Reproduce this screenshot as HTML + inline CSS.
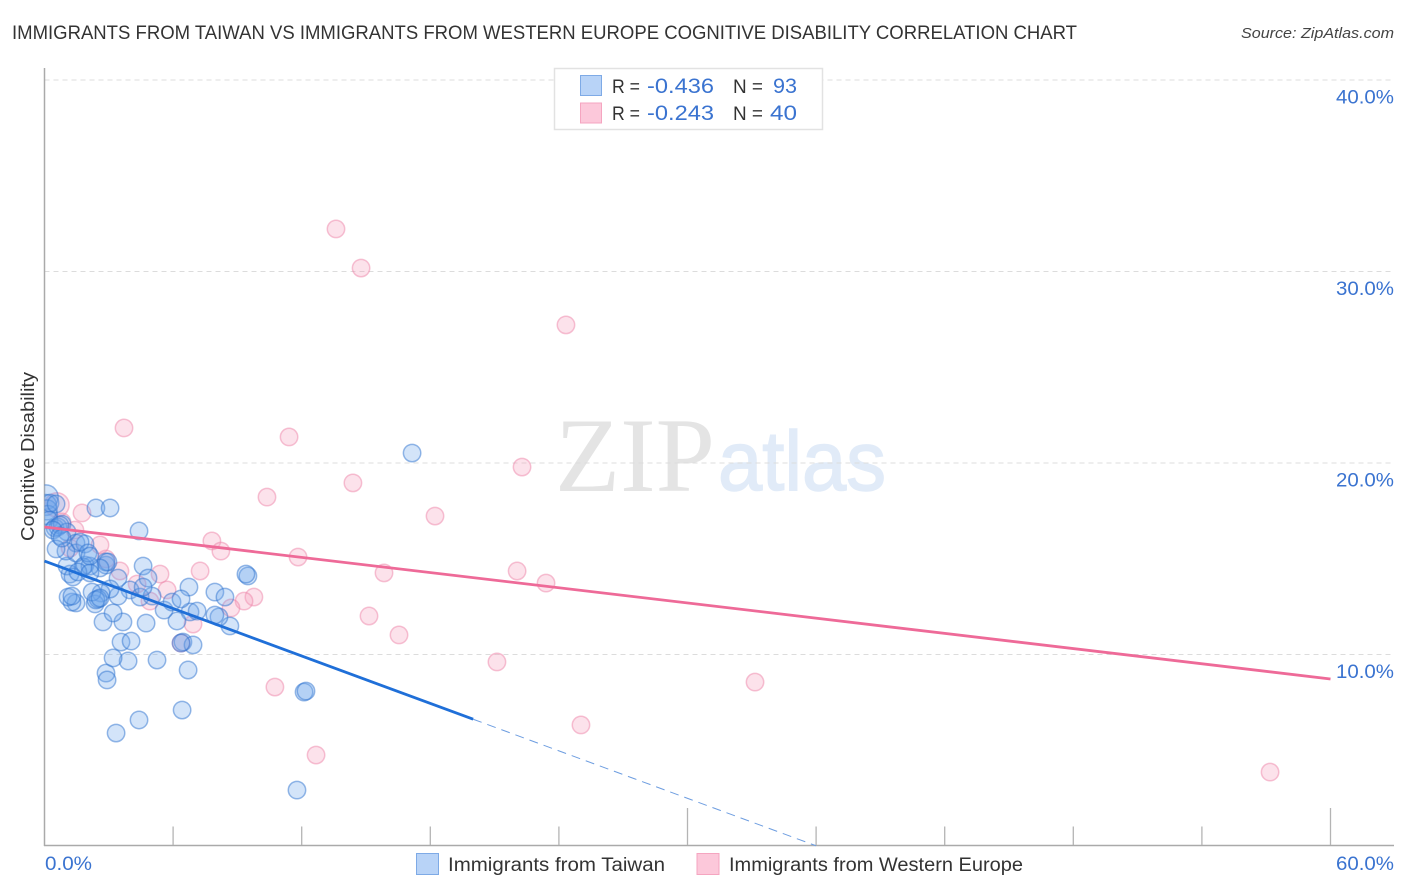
<!DOCTYPE html>
<html lang="en">
<head>
<meta charset="utf-8">
<title>Immigrants from Taiwan vs Immigrants from Western Europe Cognitive Disability Correlation Chart</title>
<style>
html,body{margin:0;padding:0;background:#fff;}
body{width:1406px;height:892px;overflow:hidden;}
svg{display:block;font-family:"Liberation Sans",sans-serif;}
</style>
</head>
<body>
<svg id="chart" xmlns="http://www.w3.org/2000/svg" width="1406" height="892" viewBox="0 0 1406 892">
  <defs><clipPath id="plot-clip"><rect x="44.5" y="60" width="1350" height="786"/></clipPath></defs>
  <rect width="1406" height="892" fill="#fff"/>
  <text x="12" y="39" font-size="19.5" fill="#333" textLength="1065" lengthAdjust="spacingAndGlyphs">IMMIGRANTS FROM TAIWAN VS IMMIGRANTS FROM WESTERN EUROPE COGNITIVE DISABILITY CORRELATION CHART</text>
  <text x="1241" y="38" font-size="15" font-style="italic" fill="#444" textLength="153" lengthAdjust="spacingAndGlyphs">Source: ZipAtlas.com</text>

  <g>
    <text x="555" y="491" font-family="'Liberation Serif',serif" font-size="106" fill="#e4e4e4" textLength="160" lengthAdjust="spacingAndGlyphs">ZIP</text>
    <text x="718" y="490" font-size="84" fill="#e1ebf8" stroke="#e1ebf8" stroke-width="1.5" textLength="168" lengthAdjust="spacingAndGlyphs">atlas</text>
  </g>

  <g id="grid"></g>
  <g id="axes"></g>
  <g id="points" clip-path="url(#plot-clip)"></g>
  <g id="trends"></g>
  <g id="labels"></g>

  <text transform="translate(34,541) rotate(-90)" font-size="18" fill="#333" textLength="169" lengthAdjust="spacingAndGlyphs">Cognitive Disability</text>

  <g>
    <rect x="554.5" y="68.5" width="268" height="61" fill="#fff" stroke="#e2e2e2" stroke-width="1.5"/>
    <rect x="580.5" y="75.5" width="21" height="20" fill="#b8d3f7" stroke="#7eaae6" stroke-width="1"/>
    <rect x="580.5" y="103" width="21" height="20" fill="#fcc8da" stroke="#f5a5c0" stroke-width="1"/>
    <text x="612" y="93" font-size="19" fill="#333" textLength="28" lengthAdjust="spacingAndGlyphs">R =</text>
    <text x="647" y="93" font-size="21" fill="#3a73d0" textLength="67" lengthAdjust="spacingAndGlyphs">-0.436</text>
    <text x="733" y="93" font-size="19" fill="#333" textLength="30" lengthAdjust="spacingAndGlyphs">N =</text>
    <text x="773" y="93" font-size="21" fill="#3a73d0" textLength="24" lengthAdjust="spacingAndGlyphs">93</text>
    <text x="612" y="120" font-size="19" fill="#333" textLength="28" lengthAdjust="spacingAndGlyphs">R =</text>
    <text x="647" y="120" font-size="21" fill="#3a73d0" textLength="67" lengthAdjust="spacingAndGlyphs">-0.243</text>
    <text x="733" y="120" font-size="19" fill="#333" textLength="30" lengthAdjust="spacingAndGlyphs">N =</text>
    <text x="770" y="120" font-size="21" fill="#3a73d0" textLength="27" lengthAdjust="spacingAndGlyphs">40</text>
  </g>

  <g>
    <rect x="416.5" y="853.5" width="22" height="21" fill="#b8d3f7" stroke="#7eaae6" stroke-width="1"/>
    <text x="448" y="871" font-size="19" fill="#333" textLength="217" lengthAdjust="spacingAndGlyphs">Immigrants from Taiwan</text>
    <rect x="697" y="853.5" width="22" height="21" fill="#fcc8da" stroke="#f5a5c0" stroke-width="1"/>
    <text x="729" y="871" font-size="19" fill="#333" textLength="294" lengthAdjust="spacingAndGlyphs">Immigrants from Western Europe</text>
  </g>
</svg>
<script>
const taiwanX = [0.07,0.07,0.12,0.16,0.26,0.54,0.21,0.49,0.63,0.82,1.05,0.72,0.40,0.72,1.47,1.89,2.87,3.99,
  17.15,11.78,12.11,12.20,6.42,4.41,3.34,6.70,2.87,2.92,3.90,3.20,5.25,3.57,4.04,6.46,6.93,6.37,
  4.41,2.40,3.06,9.49,9.40,7.95,8.42,6.74,4.60,4.83,8.65,8.14,7.95,6.79,7.12,6.18,4.74,5.58,5.95,6.37,
  4.46,5.02,4.60,3.43,3.43,3.06,2.64,3.66,2.73,3.20,2.36,2.50,2.22,2.40,2.59,1.47,1.28,1.10,1.28,
  2.87,2.96,2.59,2.12,1.80,1.19,1.05,1.33,1.56,2.12,1.47,1.00,0.54,0.82,1.89,1.66,2.03,2.12];
const taiwanY = [18.22,17.81,17.55,17.28,17.91,17.86,17.02,16.61,16.66,16.81,16.40,16.76,16.50,16.19,15.82,14.67,14.67,13.37,
  20.52,2.92,8.04,8.09,7.10,6.58,5.90,9.19,9.03,8.67,9.66,9.82,9.71,10.65,10.70,10.65,10.50,10.60,
  16.45,17.65,17.65,14.10,14.20,13.26,13.00,13.52,14.62,13.99,11.49,11.96,12.06,12.22,12.27,11.75,11.64,12.32,12.74,12.90,
  13.00,13.05,13.52,13.99,13.05,13.42,13.21,11.70,11.70,12.17,12.64,12.90,13.26,12.85,12.95,12.69,12.74,13.00,13.05,
  14.83,14.83,14.52,14.62,14.57,14.20,14.62,14.05,14.31,14.26,15.30,15.40,15.51,16.08,15.77,15.87,15.30,15.14];
const taiwanWeight = [1.4,1.2,1.15,1.1];
const westernX = [13.60,14.77,24.33,3.71,11.41,22.28,14.39,10.38,18.22,7.81,8.23,11.83,7.26,15.84,22.05,23.40,1.75,15.14,16.54,21.11,33.15,10.75,25.03,12.67,57.18,6.93,6.37,9.77,9.31,8.70,5.39,5.72,4.92,4.32,2.87,3.52,1.19,0.58,0.82,1.42,2.59];
const westernY = [32.22,30.18,27.21,21.83,21.36,19.79,18.96,18.22,17.23,15.93,15.40,15.09,14.36,14.26,14.36,13.73,17.39,12.01,11.02,9.61,8.56,8.30,6.32,4.75,3.86,11.59,10.60,13.00,12.79,12.43,14.20,13.37,12.79,13.68,14.99,14.36,15.56,17.81,16.92,16.50,15.72];
const westernWeight = {37:1.4};
const taiwanTrend = [14.88,-0.413];
const taiwanSolidEnd = 20;
const taiwanDashEnd = 36;
const westernTrend = [16.66,-0.1323];
const yTicks = [10,20,30,40];
const yTickLabels = ["10.0%","20.0%","30.0%","40.0%"];
const xTicks = [6,12,18,24,30,36,42,48,54,60];
const xMajorTicks = [30,60];
const xEndLabels = ["0.0%","60.0%"];

const NS = 'http://www.w3.org/2000/svg';
const sx = v => 44.5 + v * (1286 / 60);
const sy = v => 846 - v * 19.15;

function make(parent, tag, attrs) {
  const el = document.createElementNS(NS, tag);
  for (const k in attrs) el.setAttribute(k, attrs[k]);
  parent.appendChild(el);
  return el;
}

const grid = document.getElementById('grid');
yTicks.forEach(function (t) {
  const gl = make(grid, 'line', {x1: 44.5, x2: 1394, y1: sy(t), y2: sy(t), stroke: '#dcdcdc', 'stroke-width': 1, 'stroke-dasharray': '5 4'});
  
  
});

const axes = document.getElementById('axes');
const yAxis = make(axes, 'line', {x1: 44.5, x2: 44.5, y1: 68, y2: 846, stroke: '#aaa', 'stroke-width': 1.5});


const xAxis = make(axes, 'line', {x1: 44, x2: 1394, y1: 845.5, y2: 845.5, stroke: '#aaa', 'stroke-width': 1.5});


xTicks.forEach(function (t) {
  const top = xMajorTicks.indexOf(t) >= 0 ? 808 : 826.5;
  const tk = make(axes, 'line', {x1: sx(t), x2: sx(t), y1: top, y2: 845, stroke: '#b4b4b4', 'stroke-width': 1.3});
  
  
});

const points = document.getElementById('points');
function drawSeries(xs, ys, weight, fill, stroke, name) {
  xs.forEach(function (x, i) {
    const w = weight[i] || 1;
    const c = make(points, 'circle', {cx: sx(x), cy: sy(ys[i]), r: 8.7 * w, fill: fill, 'fill-opacity': 0.3, stroke: stroke, 'stroke-opacity': 0.5, 'stroke-width': 1.5});
    
    
  });
}
drawSeries(westernX, westernY, westernWeight, '#f4a0bd', '#ee86a9', 'point-western-europe');
drawSeries(taiwanX, taiwanY, taiwanWeight, '#6ea4ea', '#2f74d0', 'point-taiwan');

const trends = document.getElementById('trends');
const tv = x => taiwanTrend[0] + taiwanTrend[1] * x;
const wv = x => westernTrend[0] + westernTrend[1] * x;
const tSolid = make(trends, 'line', {x1: sx(0), y1: sy(tv(0)), x2: sx(taiwanSolidEnd), y2: sy(tv(taiwanSolidEnd)), stroke: '#1f6fd8', 'stroke-width': 2.8});


const tDash = make(trends, 'line', {x1: sx(taiwanSolidEnd), y1: sy(tv(taiwanSolidEnd)), x2: sx(taiwanDashEnd), y2: sy(tv(taiwanDashEnd)), stroke: '#6d9de0', 'stroke-width': 1, 'stroke-dasharray': '9 6'});


const wLine = make(trends, 'line', {x1: sx(0), y1: sy(wv(0)), x2: sx(60), y2: sy(wv(60)), stroke: '#ee6a98', 'stroke-width': 2.8});



const labels = document.getElementById('labels');
yTicks.forEach(function (t, i) {
  const l = make(labels, 'text', {x: 1336, y: sy(t) + 23.5, 'font-size': 19.5, fill: '#3a73d0', textLength: 58, lengthAdjust: 'spacingAndGlyphs'});
  l.textContent = yTickLabels[i];
  
  
});
const x0 = make(labels, 'text', {x: 45, y: 870, 'font-size': 19.5, fill: '#3a73d0', textLength: 47, lengthAdjust: 'spacingAndGlyphs'});
x0.textContent = xEndLabels[0];


const x1 = make(labels, 'text', {x: 1336, y: 870, 'font-size': 19.5, fill: '#3a73d0', textLength: 58, lengthAdjust: 'spacingAndGlyphs'});
x1.textContent = xEndLabels[1];


</script>
</body>
</html>
